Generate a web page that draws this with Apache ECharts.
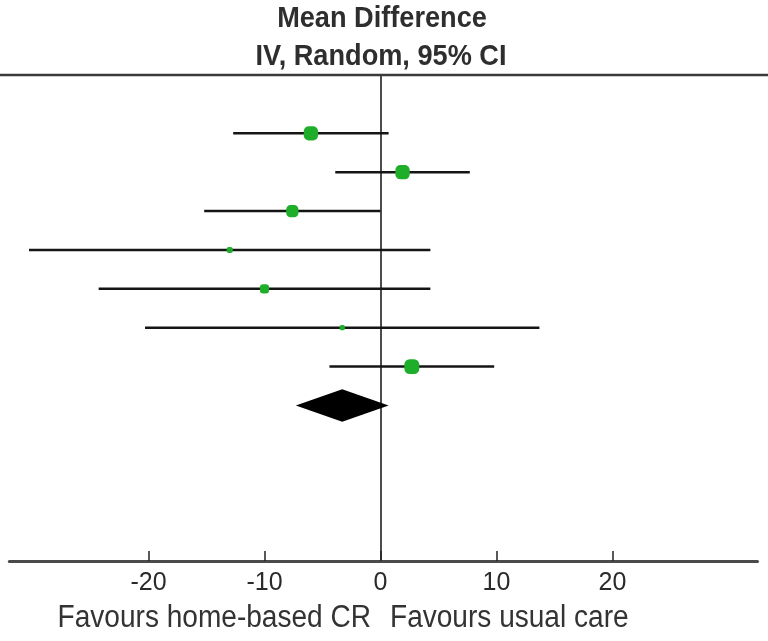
<!DOCTYPE html>
<html>
<head>
<meta charset="utf-8">
<script src="https://cdn.jsdelivr.net/npm/echarts@6/dist/echarts.min.js"></script>
<style>
  html, body { margin: 0; padding: 0; background: #ffffff; }
  #chart { width: 768px; height: 641px; }
</style>
</head>
<body>
<div id="chart"></div>
<script>
// Study-level mean differences with 95% CI (IV, random effects)
const meanDiff = [-6.0, 1.9, -7.6, -13.0, -10.0, -3.3, 2.7];
const ciLower  = [-12.7, -3.9, -15.2, -30.3, -24.3, -20.3, -4.4];
const ciUpper  = [0.7, 7.7, 0.0, 4.3, 4.3, 13.7, 9.8];
const weights  = [22, 22, 16, 4, 9, 3, 24];
// Pooled estimate: [mean, lower, upper]
const pooled = [-3.3, -7.3, 0.7];
const tickValues = [-20, -10, 0, 10, 20];
const leftLabel = 'Favours home-based CR';
const rightLabel = 'Favours usual care';

const FONT = '"Liberation Sans", Arial, sans-serif';
const GREEN = '#1fae2a';
// condensed look for the heading and footer text
const SQUEEZE = 0.905;

const studyData = meanDiff.map((m, i) => [m, ciLower[i], ciUpper[i], i + 1, weights[i]]);
const pooledRow = meanDiff.length + 1;

function renderStudy(params, api) {
  const row = api.value(3);
  const a = api.coord([api.value(1), row]);
  const b = api.coord([api.value(2), row]);
  const c = api.coord([api.value(0), row]);
  const s = 3.05 * Math.sqrt(api.value(4));
  return {
    type: 'group',
    children: [
      { type: 'line', shape: { x1: a[0], y1: a[1], x2: b[0], y2: b[1] },
        style: { stroke: '#151515', lineWidth: 2.5 } },
      { type: 'rect', shape: { x: c[0] - s / 2, y: c[1] - s / 2, width: s, height: s, r: s * 0.35 },
        style: { fill: GREEN } }
    ]
  };
}

function renderDiamond(params, api) {
  const row = api.value(3);
  const half = 0.42;
  const l = api.coord([api.value(1), row]);
  const r = api.coord([api.value(2), row]);
  const t = api.coord([api.value(0), row - half]);
  const btm = api.coord([api.value(0), row + half]);
  return {
    type: 'polygon',
    shape: { points: [l, t, r, btm] },
    style: { fill: '#000000' }
  };
}

const chart = echarts.init(document.getElementById('chart'), null, { renderer: 'canvas' });

chart.setOption({
  backgroundColor: '#ffffff',
  animation: false,
  grid: { left: 9.3, right: 10.5, top: 75, bottom: 80, containLabel: false },
  xAxis: {
    type: 'value',
    min: -32,
    max: 32.5,
    position: 'bottom',
    splitLine: { show: false },
    axisLine: { show: true, onZero: false, lineStyle: { color: '#4a4a4a', width: 3 } },
    axisTick: { show: true, inside: true, length: 10, customValues: tickValues,
                lineStyle: { color: '#222', width: 1.5 } },
    axisLabel: { show: true, customValues: tickValues, margin: 10, color: '#2a2a2a',
                 fontFamily: FONT, fontSize: 25 }
  },
  yAxis: {
    type: 'value',
    inverse: true,
    min: -0.5,
    max: 12,
    splitLine: { show: false },
    axisTick: { show: false },
    axisLabel: { show: false },
    axisLine: { show: true, onZero: true, lineStyle: { color: '#111', width: 1.5 } }
  },
  series: [
    {
      type: 'custom',
      renderItem: renderStudy,
      data: studyData,
      encode: { x: [0, 1, 2], y: 3 },
      z: 3
    },
    {
      type: 'custom',
      renderItem: renderDiamond,
      data: [[pooled[0], pooled[1], pooled[2], pooledRow]],
      encode: { x: [0, 1, 2], y: 3 },
      z: 3
    }
  ],
  graphic: [
    { type: 'line', shape: { x1: 0, y1: 75, x2: 768, y2: 75 },
      style: { stroke: '#3a3a3a', lineWidth: 2.5 }, z: 10 },
    { type: 'text', x: 382, y: 19, scaleX: SQUEEZE,
      style: { text: 'Mean Difference', fill: '#2e2e2e', font: 'bold 30px ' + FONT,
               textAlign: 'center', textVerticalAlign: 'middle' } },
    { type: 'text', x: 381, y: 57, scaleX: SQUEEZE,
      style: { text: 'IV, Random, 95% CI', fill: '#2e2e2e', font: 'bold 30px ' + FONT,
               textAlign: 'center', textVerticalAlign: 'middle' } },
    { type: 'text', x: 371, y: 618, scaleX: SQUEEZE,
      style: { text: leftLabel, fill: '#333', font: '31px ' + FONT,
               textAlign: 'right', textVerticalAlign: 'middle' } },
    { type: 'text', x: 390, y: 618, scaleX: SQUEEZE,
      style: { text: rightLabel, fill: '#333', font: '31px ' + FONT,
               textAlign: 'left', textVerticalAlign: 'middle' } }
  ]
});
</script>
</body>
</html>
